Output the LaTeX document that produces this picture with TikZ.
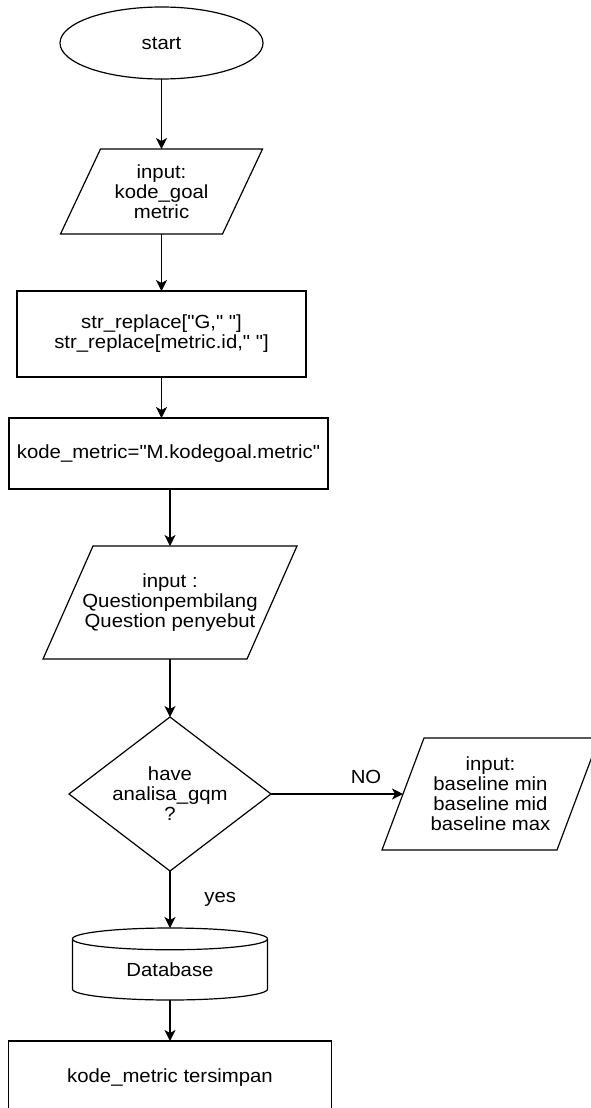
\documentclass[tikz,border=0pt]{standalone}
\usepackage{fontspec}
\setmainfont[FakeStretch=1.07, Ligatures=TeXOff]{Liberation Sans}
\usetikzlibrary{positioning, shapes.geometric, arrows.meta}
\tikzstyle{arrow} = [-{Stealth[length=11pt,width=11pt,inset=3pt]}, line width=1.2pt]

\begin{document}
\begin{tikzpicture}[
    x=1pt, y=1pt,
    every node/.style={font=\fontsize{19}{20}\selectfont, line width=1.2pt, outer sep=0pt},
    terminal/.style={ellipse, draw, minimum width=203pt, minimum height=72pt, inner sep=0pt},
    iobox/.style={rectangle, align=center, inner sep=0pt},
    process/.style={rectangle, draw, align=center, inner sep=0pt},
    decision/.style={diamond, draw, aspect=1.31, align=center, minimum width=202pt, minimum height=154pt, inner sep=0pt},
    database/.style={cylinder, draw, shape border rotate=90, aspect=0.25, minimum width=195pt, minimum height=72pt, inner sep=0pt}
]
    \useasboundingbox (0,0) rectangle (591,-1108);

    % Start - top
    \node[terminal] (start) at (161.5,-43) {start};

    % Main column
    \node[iobox, minimum width=202pt, minimum height=85pt, below=70pt of start] (inKode) {input:\\kode\_goal\\metric};
    \node[process, minimum width=289pt, minimum height=86pt, below=57pt of inKode] (replace) {str\_replace["G," "]\\str\_replace[metric.id," "]};
    \node[process, minimum width=319pt, minimum height=71pt, below=41pt of replace, xshift=7pt] (kodeMetric) {kode\_metric="M.kodegoal.metric"};
    \node[iobox, minimum width=254pt, minimum height=113pt, below=57pt of kodeMetric, xshift=1.5pt] (inQuestion) {input :\\Questionpembilang\\Question penyebut};
    \node[decision, below=58pt of inQuestion] (haveGqm) {have\\analisa\_gqm\\?};
    \node[database, below=57pt of haveGqm] (db) {Database};
    \node[process, minimum width=323pt, minimum height=74pt, below=41pt of db] (saved) {kode\_metric tersimpan};

    % NO branch on the right
    \node[iobox, minimum width=217pt, minimum height=112pt, right=111pt of haveGqm] (inBaseline) {input:\\baseline min\\baseline mid\\baseline max};

    % Slanted outlines of the input boxes
    \foreach \n/\s in {inKode/40, inQuestion/50, inBaseline/42}
        \draw[line width=1.2pt] (\n.south west) -- ([xshift=\s pt]\n.north west) -- (\n.north east) -- ([xshift=-\s pt]\n.south east) -- cycle;

    % Arrows
    \draw[arrow] (start) -- (inKode);
    \draw[arrow] (inKode) -- (replace);
    \draw[arrow] (replace.south) -- (replace.south |- kodeMetric.north);
    \draw[arrow] (kodeMetric.south -| inQuestion.north) -- (inQuestion.north);
    \draw[arrow] (inQuestion) -- (haveGqm);
    \draw[arrow] (haveGqm) -- node[above=7pt, pos=0.72] {NO} ([xshift=21pt]inBaseline.west);
    \draw[arrow] (haveGqm) -- node[right=31pt] {yes} (db);
    \draw[arrow] (db) -- (saved);

\end{tikzpicture}
\end{document}
